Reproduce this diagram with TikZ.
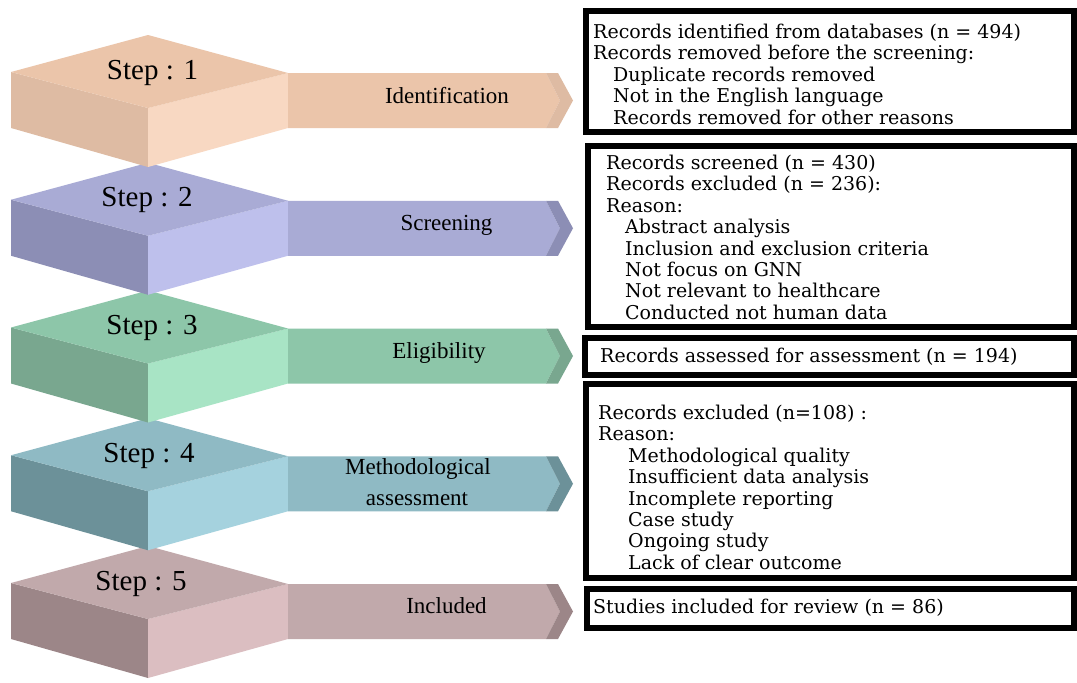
\documentclass[tikz,border=0pt]{standalone}
\usepackage{fontspec}
\setmainfont{Liberation Serif}
\newfontfamily\boxfont{DejaVu Serif}

\definecolor{pkT}{HTML}{EBC5AA}\definecolor{pkL}{HTML}{DEBBA3}\definecolor{pkR}{HTML}{F8D8C2}
\definecolor{lvT}{HTML}{A9ABD5}\definecolor{lvL}{HTML}{8C8EB5}\definecolor{lvR}{HTML}{BEC0EC}
\definecolor{gnT}{HTML}{8DC6A9}\definecolor{gnL}{HTML}{79A78F}\definecolor{gnR}{HTML}{A8E4C5}
\definecolor{tlT}{HTML}{8FBAC4}\definecolor{tlL}{HTML}{6C9199}\definecolor{tlR}{HTML}{A5D2DE}
\definecolor{mvT}{HTML}{C1A9AB}\definecolor{mvL}{HTML}{9C8688}\definecolor{mvR}{HTML}{DBBEC1}

% #1 top y, #2 top colour, #3 left colour, #4 right colour
\newcommand\stepcube[4]{%
  \fill[#3] (11,{#1+37}) -- (148,{#1+73}) -- (148,{#1+132}) -- (11,{#1+93}) -- cycle;
  \fill[#4] (148,{#1+73}) -- (288,{#1+38}) -- (288,{#1+93}) -- (148,{#1+132}) -- cycle;
  \fill[#2] (11,{#1+37}) -- (148,#1) -- (288,{#1+38}) -- (148,{#1+73}) -- cycle;
}
% #1 banner top y, #2 body colour, #3 chevron colour
\newcommand\stepbanner[3]{%
  \fill[#2] (288,#1) -- (546,#1) -- (560,{#1+27.5}) -- (546,{#1+55}) -- (288,{#1+55}) -- cycle;
  \fill[#3] (546,#1) -- (558,#1) -- (573,{#1+27.5}) -- (558,{#1+55}) -- (546,{#1+55}) -- (560,{#1+27.5}) -- cycle;
}

\begin{document}
\begin{tikzpicture}[x=1pt,y=-1pt,
  steplabel/.style={anchor=base, inner sep=0pt, font=\fontsize{29}{34}\selectfont},
  bannerlabel/.style={anchor=base, inner sep=0pt, font=\fontsize{23}{27}\selectfont},
  framebox/.style={draw=black, line width=6pt, inner sep=0pt, fill=white},
  boxtext/.style={anchor=base west, inner sep=0pt, font=\boxfont\fontsize{19}{21}\selectfont, text=black}]
\useasboundingbox (0,0) rectangle (1077,683);
\fill[white] (0,0) rectangle (1077,683);

% cubes (lower ones first)
\stepcube{546}{mvT}{mvL}{mvR}
\stepcube{418.25}{tlT}{tlL}{tlR}
\stepcube{290.5}{gnT}{gnL}{gnR}
\stepcube{162.75}{lvT}{lvL}{lvR}
\stepcube{35}{pkT}{pkL}{pkR}

% banners
\stepbanner{73}{pkT}{pkL}
\stepbanner{200.75}{lvT}{lvL}
\stepbanner{328.5}{gnT}{gnL}
\stepbanner{456.25}{tlT}{tlL}
\stepbanner{584}{mvT}{mvL}

% step labels
\node[steplabel] (s1) at (152.5,79) {Step : 1};
\node[steplabel] (s2) at (147,206.5) {Step : 2};
\node[steplabel] (s3) at (152,334.5) {Step : 3};
\node[steplabel] (s4) at (149,462) {Step : 4};
\node[steplabel] (s5) at (141,590.5) {Step : 5};

% banner labels
\node[bannerlabel] (l1) at (447,103) {Identification};
\node[bannerlabel] (l2) at (446.5,230.5) {Screening};
\node[bannerlabel] (l3) at (439,358.5) {Eligibility};
\node[bannerlabel] (l4a) at (418,474.5) {Methodological};
\node[bannerlabel] (l4b) at (417,505) {assessment};
\node[bannerlabel] (l5) at (446.5,613) {Included};

% boxes
\node[framebox, minimum width=488pt, minimum height=121pt] (b1) at (830,71.5) {};
\node[framebox, minimum width=486pt, minimum height=181pt] (b2) at (831,236.5) {};
\node[framebox, minimum width=489pt, minimum height=37pt] (b3) at (829.5,356.5) {};
\node[framebox, minimum width=488pt, minimum height=194pt] (b4) at (830,481) {};
\node[framebox, minimum width=487pt, minimum height=39pt] (b5) at (830.5,608.5) {};

% box 1 text
\node[boxtext] (a1) at (593,38) {Records identified from databases (n = 494)};
\node[boxtext] (a2) at (593,59.5) {Records removed before the screening:};
\node[boxtext] (a3) at (613,81) {Duplicate records removed};
\node[boxtext] (a4) at (613,102.5) {Not in the English language};
\node[boxtext] (a5) at (613,124) {Records removed for other reasons};

% box 2 text
\node[boxtext] (c1) at (606,169.5) {Records screened (n = 430)};
\node[boxtext] (c2) at (606,190.9) {Records excluded (n = 236):};
\node[boxtext] (c3) at (606,212.3) {Reason:};
\node[boxtext] (c4) at (625,233.7) {Abstract analysis};
\node[boxtext] (c5) at (625,255.1) {Inclusion and exclusion criteria};
\node[boxtext] (c6) at (625,276.5) {Not focus on GNN};
\node[boxtext] (c7) at (625,297.9) {Not relevant to healthcare};
\node[boxtext] (c8) at (625,319.3) {Conducted not human data};

% box 3 text
\node[boxtext] (d1) at (600,362) {Records assessed for assessment (n = 194)};

% box 4 text
\node[boxtext] (e1) at (598,419.5) {Records excluded (n=108) :};
\node[boxtext] (e2) at (598,440.9) {Reason:};
\node[boxtext] (e3) at (628,462.3) {Methodological quality};
\node[boxtext] (e4) at (628,483.7) {Insufficient data analysis};
\node[boxtext] (e5) at (628,505.1) {Incomplete reporting};
\node[boxtext] (e6) at (628,526.5) {Case study};
\node[boxtext] (e7) at (628,547.9) {Ongoing study};
\node[boxtext] (e8) at (628,569.3) {Lack of clear outcome};

% box 5 text
\node[boxtext] (f1) at (593,613) {Studies included for review (n = 86)};
\end{tikzpicture}
\end{document}
